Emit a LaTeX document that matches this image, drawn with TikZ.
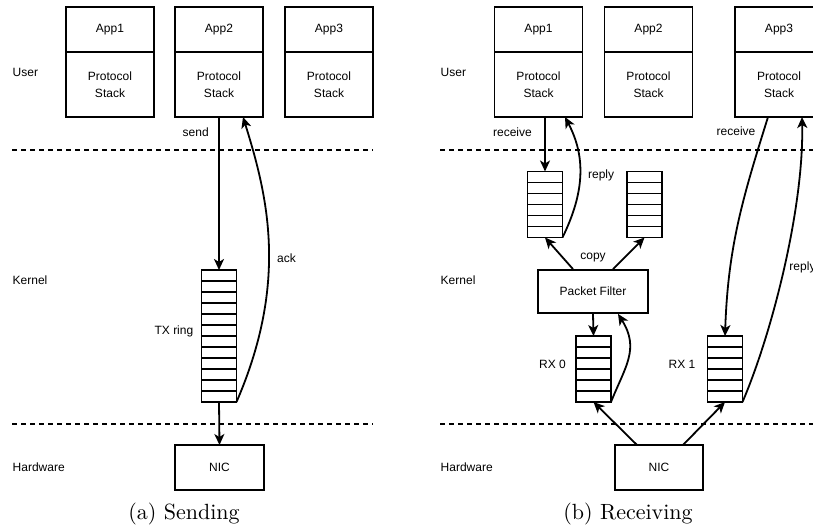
\documentclass[tikz,border=0pt]{standalone}
\usepackage{fontspec}
\newfontfamily\diafont{Liberation Sans}
\usetikzlibrary{positioning,arrows.meta}
% horizontal separators inside a ring node: node, number of lines, cell height
\newcommand{\ringcells}[3]{%
  \foreach \i in {1,...,#2}
    \draw ([yshift=-\i*#3]#1.north west) -- ([yshift=-\i*#3]#1.north east);}

\begin{document}
\begin{tikzpicture}[x=1pt,y=-1pt,>={Stealth[length=11pt,width=10pt,inset=3pt]},line width=1.8pt,
  font=\diafont\fontsize{12}{17}\selectfont,
  appbox/.style={draw, rectangle, minimum width=88pt, minimum height=45pt, inner sep=0pt, outer sep=0pt},
  stackbox/.style={appbox, minimum height=65pt, align=center},
  ringbox/.style={draw, rectangle, minimum width=35pt, outer sep=0pt},
  layer/.style={anchor=west},
  sep/.style={dash pattern=on 5pt off 4pt},
  caption/.style={font=\rmfamily\fontsize{10}{12}\selectfont, scale=2.2}]
  \useasboundingbox (0,0) rectangle (813,530);

  % (a) Sending: layers
  \node[layer] (suser) at (8.5,72) {User};
  \node[layer] (skern) at (8.5,280) {Kernel};
  \node[layer] (shw) at (8.5,467) {Hardware};
  \coordinate (sl1) at (12,150);  \coordinate (sr1) at (373,150);
  \coordinate (sl2) at (12,424);  \coordinate (sr2) at (373,424);
  \draw[sep] (sl1) -- (sr1);
  \draw[sep] (sl2) -- (sr2);
  % Apps
  \node[appbox] (sa1) at (110,29.5) {App1};
  \node[stackbox, below=0pt of sa1] (ss1) {Protocol\\Stack};
  \node[appbox] (sa2) at (219,29.5) {App2};
  \node[stackbox, below=0pt of sa2] (ss2) {Protocol\\Stack};
  \node[appbox] (sa3) at (329,29.5) {App3};
  \node[stackbox, below=0pt of sa3] (ss3) {Protocol\\Stack};
  % Ring and NIC
  \node[ringbox, minimum height=132pt] (tx) at (219,336) {};
  \ringcells{tx}{11}{11pt}
  \node[left=4pt of tx, yshift=5pt] (txl) {TX ring};
  \node[appbox, minimum width=89pt] (snic) at (219.5,467.5) {NIC};
  % Connections
  \draw[->] (ss2.south) -- node[pos=0.1, left=6pt] (sendl) {send} (tx.north);
  \draw[->] (tx.south east) .. controls +(52,-120) and +(25,80) .. ([xshift=24pt]ss2.south)
    node[pos=0.45, right=4pt] (ackl) {ack};
  \draw[->] (tx.south) -- (snic.north);
  \node[caption] (capa) at (184,514) {(a) Sending};

  % (b) Receiving: layers
  \node[layer] (ruser) at (436.5,72) {User};
  \node[layer] (rkern) at (436.5,280) {Kernel};
  \node[layer] (rhw) at (436.5,467) {Hardware};
  \coordinate (rl1) at (440,150);  \coordinate (rr1) at (813,150);
  \coordinate (rl2) at (440,424);  \coordinate (rr2) at (813,424);
  \draw[sep] (rl1) -- (rr1);
  \draw[sep] (rl2) -- (rr2);
  % Apps
  \node[appbox] (ra1) at (538.5,29.5) {App1};
  \node[stackbox, below=0pt of ra1] (rs1) {Protocol\\Stack};
  \node[appbox] (ra2) at (648.5,29.5) {App2};
  \node[stackbox, below=0pt of ra2] (rs2) {Protocol\\Stack};
  \node[appbox] (ra3) at (779,29.5) {App3};
  \node[stackbox, below=0pt of ra3] (rs3) {Protocol\\Stack};
  % Queues, filter and NIC
  \node[ringbox, minimum height=66pt] (q1) at (545,204.5) {};
  \ringcells{q1}{5}{11pt}
  \node[ringbox, minimum height=66pt] (q2) at (644.5,204.5) {};
  \ringcells{q2}{5}{11pt}
  \node[draw, rectangle, minimum width=110pt, minimum height=43pt] (pf) at (593,291.5) {Packet Filter};
  \node[above=3pt of pf] (copyl) {copy};
  \node[ringbox, minimum height=66pt] (rx0) at (593.5,369) {};
  \ringcells{rx0}{5}{11pt}
  \node[left=6pt of rx0, yshift=5pt] (rx0l) {RX 0};
  \node[ringbox, minimum height=66pt] (rx1) at (725,369) {};
  \ringcells{rx1}{5}{11pt}
  \node[left=8pt of rx1, yshift=5pt] (rx1l) {RX 1};
  \node[appbox] (rnic) at (659,467.5) {NIC};
  % Connections
  \draw[->] (q1.north |- rs1.south) -- node[pos=0.27, left=9pt] (recvl1) {receive} (q1.north);
  \draw[->] (q1.south east) .. controls +(22,-45) and +(21,40) .. ([xshift=26.5pt]rs1.south)
    node[pos=0.5, right=4pt] (replyl1) {reply};
  \draw[->] ([xshift=-20pt]pf.north) -- (q1.south);
  \draw[->] ([xshift=20pt]pf.north) -- (q2.south);
  \draw[->] (pf.south) -- (rx0.north);
  \draw[->] (rx0.south east) .. controls +(14,-35) and +(22,35) .. ([xshift=25pt]pf.south);
  \draw[->] ([xshift=-22pt]rnic.north) -- (rx0.south);
  \draw[->] ([xshift=24pt]rnic.north) -- (rx1.south);
  \draw[->] ([xshift=-11pt]rs3.south) .. controls +(-25,80) and +(3,-90) .. (rx1.north)
    node[pos=0.06, left=4pt] (recvl2) {receive};
  \draw[->] (rx1.south east) .. controls +(30,-70) and +(2,90) .. ([xshift=23pt]rs3.south)
    node[pos=0.5, right=1pt] (replyl2) {reply};
  \node[caption] (capb) at (628,514) {(b) Receiving};
\end{tikzpicture}
\end{document}
